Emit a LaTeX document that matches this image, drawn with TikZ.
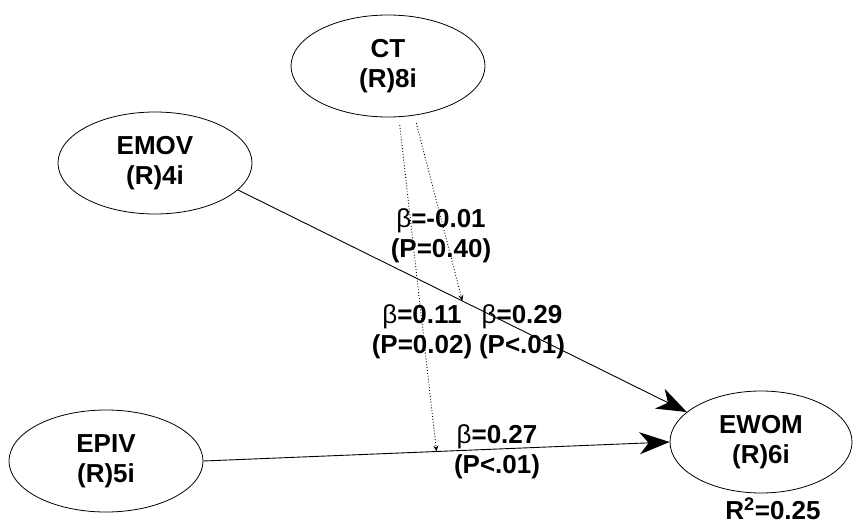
\documentclass[tikz,border=0pt]{standalone}
\usepackage{fontspec}
\setmainfont{Liberation Sans}
\usetikzlibrary{shapes, arrows.meta, calc}

\begin{document}
\begin{tikzpicture}[x=1pt, y=-1pt, >={Stealth[length=30pt,width=22pt,inset=9pt]},
                    latent/.style={ellipse, draw, line width=0.8pt, minimum width=194pt, minimum height=102pt, inner sep=0pt, align=center, font=\fontsize{26}{30}\selectfont\bfseries},
                    coef/.style={align=center, inner sep=0pt, font=\fontsize{26}{30}\selectfont\bfseries},
                    effect/.style={->, line width=0.9pt},
                    modpath/.style={-{Stealth[length=6pt,width=5pt]}, dotted, line width=0.9pt, shorten <=8pt}]
                      \useasboundingbox (0,0) rectangle (853,527);

                      \node[latent] (ct) at (388,66) {CT\\(R)8i};
                      \node[latent] (emov) at (155,163) {EMOV\\(R)4i};
                      \node[latent] (epiv) at (106,461) {EPIV\\(R)5i};
                      \node[latent, minimum width=182pt] (ewom) at (761,442) {EWOM\\(R)6i};
                      \node[coef] (r2) at (773,509) {R\textsuperscript{2}=0.25};

                      \draw[effect] (emov.-18) -- (ewom.158);
                      \draw[effect] (epiv.east) -- (ewom.west);

                      \coordinate (m1) at ($(emov.-18)!0.5!(ewom.158)$);
                      \coordinate (m2) at ($(epiv.east)!0.5!(ewom.west)$);
                      \draw[modpath] (ct.-62) -- (m1);
                      \draw[modpath] (ct.-78) -- (m2);

                      \node[coef] (b1) at (441,236) {{\mdseries β}=-0.01\\(P=0.40)};
                      \node[coef] (b2) at (422,332) {{\mdseries β}=0.11\\(P=0.02)};
                      \node[coef] (b3) at (522,332) {{\mdseries β}=0.29\\(P<.01)};
                      \node[coef] (b4) at (497,452) {{\mdseries β}=0.27\\(P<.01)};

                    \end{tikzpicture}
\end{document}
